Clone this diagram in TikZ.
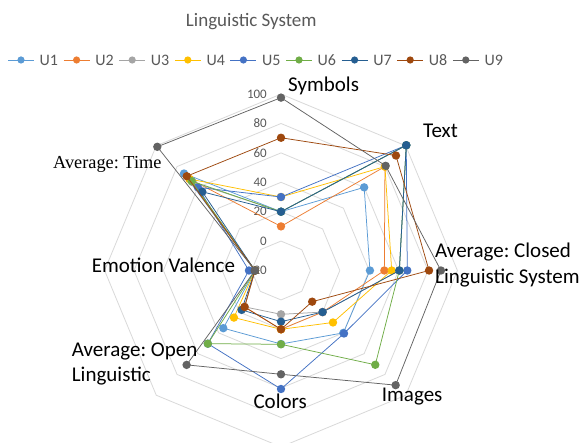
\documentclass[tikz,border=0pt]{standalone}
\usepackage{fontspec}
\setmainfont{Carlito}
\newfontfamily\serifont{Liberation Serif}
\frenchspacing
\definecolor{cU1}{HTML}{5B9BD5}
\definecolor{cU2}{HTML}{ED7D31}
\definecolor{cU3}{HTML}{A5A5A5}
\definecolor{cU4}{HTML}{FFC000}
\definecolor{cU5}{HTML}{4472C4}
\definecolor{cU6}{HTML}{70AD47}
\definecolor{cU7}{HTML}{255E91}
\definecolor{cU8}{HTML}{9E480E}
\definecolor{cU9}{HTML}{636363}
\definecolor{gridc}{HTML}{D9D9D9}
\definecolor{txtgray}{HTML}{595959}
\begin{document}
\begin{tikzpicture}[x=1pt,y=-1pt,
  gridline/.style={draw=gridc,line width=0.8pt},
  vlab/.style={anchor=east,inner sep=0pt,text=txtgray,font=\fontsize{13}{15}\selectfont},
  axlab/.style={anchor=base west,inner sep=0pt,text=black,font=\fontsize{21}{25}\selectfont},
  datal/.style={line width=0.75pt},
  legtext/.style={anchor=base west,inner sep=0pt,text=txtgray,font=\fontsize{16}{19}\selectfont}]
\useasboundingbox (0,0) rectangle (583,443);
\fill[white] (0,0) rectangle (583,443);
% title
\node[anchor=base,inner sep=0pt,text=txtgray,font=\fontsize{19}{22}\selectfont] (title) at (251.3,27) {Linguistic System};
% legend
\foreach \i in {1,...,9}{
  \pgfmathsetmacro\mx{21+55.6*(\i-1)}
  \coordinate (la\i) at (\mx-13,60);
  \coordinate (lb\i) at (\mx+13,60);
  \coordinate (lm\i) at (\mx,60);
  \draw[cU\i,line width=0.75pt] (la\i) -- (lb\i);
  \fill[cU\i] (lm\i) circle (3.6pt);
  \node[legtext] (lt\i) at (\mx+18.5,65.5) {U\i};
}
\begin{scope}[shift={(281,270.5)}]
  \coordinate (C) at (0,0);
  % grid octagons
  \foreach \v in {0,20,...,100}{
    \pgfmathsetmacro\r{(\v+20)*1.47}
    \draw[gridline] (-90:\r) -- (-45:\r) -- (0:\r) -- (45:\r) -- (90:\r) -- (135:\r) -- (180:\r) -- (225:\r) -- cycle;
  }
\end{scope}
% value labels
\foreach \v in {-20,0,20,...,100}{
  \node[vlab] (v\v) at (267,{270.5-(\v+20)*1.47}) {\v};
}
% data
\begin{scope}[shift={(281,270.5)}]
\foreach \n/\vals in {
  1/{20,60,40.5,40,30,35.5,-2.3,73.3},
  2/{10,80,50.3,20,20,15,-2.3,68},
  3/{20,100.5,60.5,20,9.8,15,-2.3,65},
  4/{30,80,55.3,30,20,25.3,-2.3,68},
  5/{30,100.5,65.9,40.6,60.6,50.4,1.8,60},
  6/{20,100.5,60.5,70.7,30.2,50.4,-2.3,66},
  7/{20,100.5,60.5,20,14.8,17.9,-2.3,55.7},
  8/{70.3,90.6,80.7,10,20,15.1,-2.3,70.7},
  9/{97.6,80.7,88.8,90.3,50.6,70.8,-2.3,99}}{
  \foreach \v [count=\i] in \vals {
    \coordinate (p\n-\i) at ({-135+45*\i}:{(\v+20)*1.47});
  }
  \draw[cU\n,datal] (p\n-1) -- (p\n-2) -- (p\n-3) -- (p\n-4) -- (p\n-5) -- (p\n-6) -- (p\n-7) -- (p\n-8) -- cycle;
  \foreach \i in {1,...,8}{
    \fill[cU\n] (p\n-\i) circle (4.2pt);
  }
}
\end{scope}
% axis labels
\node[axlab] (symbols) at (288,92) {Symbols};
\node[axlab] (text) at (423,137.5) {Text};
\node[axlab] (closedA) at (435,257.5) {Average: Closed};
\node[axlab] (closedB) at (435,283.3) {Linguistic System};
\node[axlab] (images) at (381.7,401.7) {Images};
\node[axlab] (colors) at (253.3,408.7) {Colors};
\node[axlab] (openA) at (71.7,356) {Average: Open};
\node[axlab] (openB) at (71.7,381.7) {Linguistic};
\node[axlab] (emotion) at (91.7,273) {Emotion Valence};
\node[axlab,font=\serifont\fontsize{18.3}{22}\selectfont] (time) at (53,169) {Average: Time};
\end{tikzpicture}
\end{document}
